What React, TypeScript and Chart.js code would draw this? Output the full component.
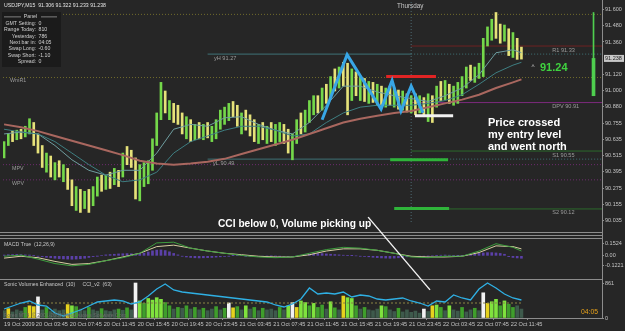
import React, { useEffect, useRef } from 'react';
import { Chart, registerables } from 'chart.js';

Chart.register(...registerables);

// ===================== DATA =====================
const titleText = 'USDJPY,M15  91.306 91.322 91.233 91.238';
const dayName = 'Thursday';

// x values are M15 bar offsets (0 = first bar of 20 Oct)
const tickTimes = [0, 15, 31, 47, 63, 79, 95, 111, 127, 143, 159, 175, 191, 207, 223, 239];
const tickLabels = ['19 Oct 2009', '20 Oct 03:45', '20 Oct 07:45', '20 Oct 11:45', '20 Oct 15:45', '20 Oct 19:45', '20 Oct 23:45', '21 Oct 03:45', '21 Oct 07:45', '21 Oct 11:45', '21 Oct 15:45', '21 Oct 19:45', '21 Oct 23:45', '22 Oct 03:45', '22 Oct 07:45', '22 Oct 11:45'];

const yesterdayStart = 96;
const todayStart = 192;
const barSpan = 2; // each drawn bar covers two M15 periods
const cciStep = 4;

const priceTicks = [91.6, 91.48, 91.36, 91.12, 91.0, 90.88, 90.755, 90.635, 90.515, 90.395, 90.275, 90.155, 90.035];
const macdTicks = [0.1524, 0, -0.1221];
const volumeTicks = [861, 0];

const firstOpen = 90.54;
const highs = [90.620, 90.677, 90.698, 90.705, 90.712, 90.734, 90.790, 90.762, 90.677, 90.591,
  90.535, 90.513, 90.464, 90.478, 90.449, 90.421, 90.336, 90.286, 90.265, 90.251,
  90.265, 90.286, 90.357, 90.371, 90.371, 90.393, 90.421, 90.407, 90.535, 90.584,
  90.556, 90.499, 90.449, 90.464, 90.478, 90.641, 90.833, 91.060, 90.996, 90.925,
  90.904, 90.890, 90.833, 90.805, 90.783, 90.748, 90.762, 90.748, 90.762, 90.734,
  90.783, 90.854, 90.876, 90.904, 90.918, 90.890, 90.833, 90.854, 90.819, 90.783,
  90.748, 90.762, 90.734, 90.762, 90.748, 90.762, 90.748, 90.712, 90.677, 90.783,
  90.833, 90.854, 90.925, 90.961, 90.961, 91.018, 91.046, 91.103, 91.160, 91.174,
  91.209, 91.202, 91.160, 91.138, 91.103, 91.089, 91.067, 91.060, 91.046, 91.032,
  91.018, 91.032, 91.018, 91.003, 90.996, 90.975, 90.961, 90.975, 90.961, 90.947,
  90.975, 90.961, 91.032, 91.067, 91.074, 91.046, 91.032, 91.060, 91.103, 91.174,
  91.188, 91.174, 91.202, 91.387, 91.472, 91.529, 91.579, 91.493, 91.486, 91.458,
  91.430, 91.387, 91.322];
const lows = [90.499, 90.591, 90.620, 90.634, 90.641, 90.655, 90.677, 90.591, 90.535, 90.428,
  90.393, 90.357, 90.336, 90.357, 90.322, 90.265, 90.144, 90.109, 90.094, 90.123,
  90.094, 90.144, 90.215, 90.251, 90.265, 90.272, 90.300, 90.286, 90.357, 90.449,
  90.428, 90.194, 90.180, 90.286, 90.307, 90.407, 90.591, 90.783, 90.833, 90.783,
  90.762, 90.748, 90.677, 90.641, 90.620, 90.634, 90.641, 90.634, 90.648, 90.620,
  90.641, 90.712, 90.748, 90.776, 90.805, 90.734, 90.677, 90.705, 90.662, 90.620,
  90.606, 90.634, 90.606, 90.620, 90.591, 90.620, 90.606, 90.535, 90.485, 90.606,
  90.677, 90.691, 90.762, 90.819, 90.833, 90.854, 90.904, 90.947, 90.996, 91.018,
  91.032, 90.819, 90.925, 90.961, 90.925, 90.918, 90.904, 90.911, 90.890, 90.876,
  90.876, 90.890, 90.876, 90.861, 90.854, 90.840, 90.833, 90.819, 90.833, 90.805,
  90.769, 90.762, 90.876, 90.925, 90.932, 90.904, 90.890, 90.904, 90.961, 91.018,
  91.074, 91.060, 91.089, 91.103, 91.330, 91.373, 91.387, 91.351, 91.366, 91.259,
  91.245, 91.231, 91.233];
const closes = [90.606, 90.670, 90.641, 90.684, 90.662, 90.719, 90.748, 90.620, 90.563, 90.464,
  90.499, 90.393, 90.428, 90.378, 90.407, 90.286, 90.194, 90.251, 90.144, 90.215,
  90.123, 90.265, 90.322, 90.279, 90.350, 90.307, 90.393, 90.364, 90.513, 90.478,
  90.464, 90.251, 90.407, 90.428, 90.449, 90.606, 90.805, 90.996, 90.876, 90.890,
  90.819, 90.783, 90.712, 90.748, 90.677, 90.712, 90.677, 90.726, 90.677, 90.705,
  90.762, 90.819, 90.833, 90.876, 90.833, 90.762, 90.790, 90.734, 90.691, 90.641,
  90.712, 90.662, 90.691, 90.641, 90.677, 90.719, 90.634, 90.570, 90.641, 90.748,
  90.705, 90.819, 90.890, 90.932, 90.876, 90.989, 90.961, 91.074, 91.046, 91.131,
  91.089, 90.961, 91.103, 90.996, 91.046, 90.961, 91.018, 90.947, 90.996, 90.904,
  90.975, 90.925, 90.961, 90.904, 90.947, 90.876, 90.918, 90.854, 90.904, 90.876,
  90.932, 90.890, 90.996, 90.961, 91.018, 90.925, 90.975, 91.018, 91.067, 91.138,
  91.103, 91.145, 91.160, 91.351, 91.444, 91.493, 91.458, 91.422, 91.458, 91.302,
  91.351, 91.316, 91.238];

const maTimes = [0, 8, 16, 24, 32, 40, 48, 56, 64, 72, 80, 88, 96, 104, 112, 120, 128, 136, 144, 152, 160, 168, 176, 184, 192, 200, 208, 216, 224, 232, 240, 244];
const slowMA = [90.748, 90.726, 90.698, 90.662, 90.627, 90.591, 90.556, 90.520, 90.478, 90.457, 90.449, 90.457, 90.471, 90.492, 90.528, 90.563, 90.599, 90.634, 90.677, 90.719, 90.762, 90.790, 90.812, 90.833, 90.847, 90.876, 90.904, 90.932, 90.968, 91.018, 91.060, 91.082];
const fastMA = [90.677, 90.691, 90.677, 90.591, 90.485, 90.407, 90.371, 90.407, 90.407, 90.535, 90.712, 90.748, 90.734, 90.797, 90.805, 90.748, 90.705, 90.677, 90.762, 90.890, 91.032, 91.032, 90.989, 90.961, 90.940, 90.918, 90.961, 91.018, 91.117, 91.280, 91.302, 91.280];
const midMA = [90.712, 90.691, 90.677, 90.620, 90.535, 90.449, 90.371, 90.322, 90.336, 90.393, 90.535, 90.620, 90.662, 90.705, 90.734, 90.734, 90.705, 90.662, 90.677, 90.762, 90.833, 90.876, 90.890, 90.890, 90.890, 90.904, 90.925, 90.968, 91.046, 91.131, 91.188, 91.209];

const macdLine = [-0.005, 0.009, -0.041, -0.096, -0.124, -0.106, -0.060, -0.023, 0.032, 0.161, 0.170, 0.096, 0.060, 0.032, 0.005, -0.014, -0.023, -0.014, 0.032, 0.078, 0.106, 0.096, 0.069, 0.032, -0.014, -0.023, -0.005, -0.005, 0.060, 0.151, 0.106, 0.060];
const signalLine = [-0.028, -0.005, -0.023, -0.069, -0.106, -0.096, -0.060, -0.014, 0.032, 0.115, 0.133, 0.096, 0.060, 0.032, 0.014, -0.005, -0.014, -0.014, 0.014, 0.060, 0.087, 0.087, 0.069, 0.032, -0.005, -0.014, -0.014, -0.005, 0.041, 0.124, 0.115, 0.087];
const macdHist = [0.010, 0.014, 0.016, 0.018, 0.015, 0.012, 0.010, 0.004,
  -0.004, -0.010,
  -0.018, -0.024, -0.030, -0.034, -0.038, -0.040, -0.042, -0.040, -0.036, -0.030, -0.020,
  -0.010, -0.002, 0.006,
  0.012, 0.016, 0.020, 0.024, 0.026, 0.028, 0.026, 0.022, 0.024,
  0.034, 0.048, 0.062, 0.072, 0.074, 0.066, 0.050,
  0.030, 0.012, -0.004,
  -0.014, -0.020, -0.024, -0.026, -0.024, -0.022, -0.020, -0.016, -0.012, -0.008, -0.004,
  0.002, 0.004, 0.002, -0.002, -0.004, -0.006, -0.006, -0.004, -0.002, 0.000, -0.002, -0.004, -0.006, -0.008, -0.006, -0.002,
  0.008, 0.016, 0.022, 0.026, 0.028, 0.028, 0.024, 0.020, 0.016, 0.012, 0.008,
  0.004, 0.002, 0.000, -0.004, -0.008, -0.012,
  -0.018, -0.022, -0.026, -0.028, -0.030, -0.028, -0.024, -0.018, -0.012,
  -0.008, -0.006, -0.004, -0.004, -0.002, 0.000, 0.004, 0.008,
  0.010, 0.008, 0.004, 0.002, 0.004, 0.010, 0.018, 0.024,
  0.030, 0.036, 0.040, 0.040, 0.036, 0.030, 0.020,
  -0.010, -0.020, -0.026, -0.030];

const volumes = [180, 230, 150, 200, 170, 260, 300, 280, 520, 200,
  260, 160, 220, 180, 200, 330, 300, 280, 220, 180,
  260, 200, 170, 230, 180, 160, 200, 220, 190, 250,
  200, 861, 420, 360, 480, 440, 500, 460, 380, 300,
  220, 260, 240, 300, 220, 260, 200, 240, 180, 220,
  280, 200, 240, 370, 250, 280, 200, 300, 220, 260,
  180, 240, 200, 220, 180, 260, 200, 300, 380, 260,
  420, 380, 300, 360, 260, 320, 220, 400, 250, 200,
  540, 500, 480, 300, 220, 260, 200, 180, 220, 300,
  280, 200, 160, 240, 150, 200, 140, 170, 120, 220,
  160, 300, 320, 260, 180, 300, 200, 170, 260, 150,
  200, 240, 180, 620, 360, 400, 460, 300, 420, 340,
  260, 300, 220];
// d = quiet, g = green, G = strong green, y = yellow (climax), w = white (spike)
const volumeKinds = ('dydddgyywd' + 'gddddyGgdd' + 'gddgdddgdg' + 'dwGgGGGGgg' + 'dgdgdgdgdd' + 'gdgwygdGdg' +
  'dgdddgdGwy' + 'GGgGggdGgd' + 'yGGgdgdddG' + 'gddgdddddw' + 'dyGgdGddgd' + 'dgdwyGGgGg' + 'gdd').split('');

const cciValues = [-60, -30, 0, 20, -20, -30, -100, -130, -100, -70,
  -30, 10, 20, 30, 20, -10, 10, 70, 140, 190,
  130, 110, 100, 90, 80, 70, 60, 50, 40, 30,
  20, 10, -20, -40, -10, 40, 150, 90, 100, 90,
  110, 60, 80, 70, 40, 30, 40, 50, 20, 0,
  -30, 20, 10, 80, 50, 30, 140, 200, 150, 90,
  50, 30];

// levels
const pivotNames = ['R1', 'DPV', 'S1', 'S2'];
const pivotValues = [91.33, 90.91, 90.55, 90.12];
const yHigh = 91.27;
const yLow = 90.49;
const monthlyPV = 90.449;
const weeklyPV = 90.336;
const weeklyMidR1 = 91.096;
const upperLevel = 91.565;
const lastPrice = 91.238;
const rangeBarTime = 278;
const todayHigh = 91.579;
const todayLow = 90.961;

const panelLabels = ['GMT Setting:', 'Range Today:', 'Yesterday:', 'Next bar in:', 'Swap Long:', 'Swap Short:', 'Spread:'];
const panelValues = ['0', '810', '786', '04:05', '-0.60', '-1.10', '0'];

// hand-drawn annotations
const zigzagTimes = [150.0, 161.8, 177.8, 183.0, 187.2, 192.0, 197.6];
const zigzagPrices = [90.783, 91.266, 90.861, 91.074, 90.847, 91.032, 90.833];
const redBar = { from: 180.2, to: 203.7, price: 91.103 };
const whiteBar = { from: 193.8, to: 211.8, price: 90.812 };
const greenBar1 = { from: 182.1, to: 209.4, price: 90.485 };
const greenBar2 = { from: 184.0, to: 209.9, price: 90.123 };
const arrowTimes = [171.7, 200.9];
const arrowPrices = [90.059, 89.519];
const noteLines = ['Price crossed', 'my entry level', 'and went north'];
const noteCCI = 'CCI below 0, Volume picking up';
const bigPrice = '91.24';
const countdown = '04:05';

// ===================== STYLE / LAYOUT =====================
const W = 625, H = 331;
const BG = '#262626';
const PANEL_BG = '#1b1b1b';
const FONT = '"Liberation Sans", Arial, sans-serif';
const AXIS_LINE = '#8c8c8c';
const AXIS_TEXT = '#c4c4c4';
const AXIS_W = 23;
const X_MIN = -0.5, X_MAX = 282;
const UP = '#74d84a';
const DOWN = '#e6e27a';

function txt(ctx: CanvasRenderingContext2D, s: string, x: number, y: number, size: number, color: string, align: CanvasTextAlign = 'left', weight = 'normal') {
  ctx.save();
  ctx.font = `${weight} ${size}px ${FONT}`;
  ctx.fillStyle = color;
  ctx.textAlign = align;
  ctx.textBaseline = 'middle';
  ctx.fillText(s, x, y);
  ctx.restore();
}

function xScale(show: boolean): any {
  return {
    type: 'linear', min: X_MIN, max: X_MAX, offset: false, display: show,
    afterBuildTicks: (s: any) => { s.ticks = tickTimes.map((v) => ({ value: v })); },
    afterFit: (s: any) => { s.height = 10; s.paddingLeft = 0; s.paddingRight = 0; },
    ticks: {
      autoSkip: false, maxRotation: 0, minRotation: 0, align: 'start', padding: 1,
      color: AXIS_TEXT, font: { family: FONT, size: 5.6 },
      callback: (_v: any, i: number) => tickLabels[i] ?? '',
    },
    grid: { display: true, drawOnChartArea: false, drawTicks: true, tickLength: 2, color: AXIS_LINE },
    border: { display: true, color: AXIS_LINE },
  };
}

function yScale(min: number, max: number, ticks: number[], fmt: (v: number) => string): any {
  return {
    type: 'linear', position: 'right', min, max,
    afterBuildTicks: (s: any) => { s.ticks = ticks.map((v) => ({ value: v })); },
    afterFit: (s: any) => { s.width = AXIS_W; s.paddingTop = 0; s.paddingBottom = 0; },
    ticks: { autoSkip: false, padding: 1, color: AXIS_TEXT, font: { family: FONT, size: 5.5 }, callback: (v: any) => fmt(Number(v)) },
    grid: { drawOnChartArea: false, drawTicks: true, tickLength: 2, color: AXIS_LINE },
    border: { display: true, color: AXIS_LINE },
  };
}

function hline(from: number, to: number, value: number, color: string, width = 1, dash: number[] = [], order = 20, yAxisID = 'y'): any {
  return {
    type: 'line', yAxisID, data: [{ x: from, y: value }, { x: to, y: value }],
    borderColor: color, borderWidth: width, borderDash: dash, pointRadius: 0, order, fill: false,
  };
}

const baseOptions = (padding: any) => ({
  animation: false as const, responsive: false, maintainAspectRatio: false, devicePixelRatio: 1,
  events: [] as any[],
  layout: { padding },
  plugins: { legend: { display: false }, tooltip: { enabled: false } },
  elements: { point: { radius: 0 } },
});

function buildMain(canvas: HTMLCanvasElement) {
  const opens = closes.map((c, i) => (i === 0 ? firstOpen : closes[i - 1]));
  const barColors = closes.map((c, i) => (c >= opens[i] ? UP : DOWN));
  const PRICE_MIN = 90.023, PRICE_MAX = 91.657;
  const teal = '#3f7377';
  const datasets: any[] = [
    hline(X_MIN, X_MAX, upperLevel, '#716c2c', 1, [1, 2]),
    hline(X_MIN, X_MAX, weeklyMidR1, '#716c2c', 1, [1, 2]),
    hline(X_MIN, X_MAX, monthlyPV, '#6e2c6e', 1, [1, 2]),
    hline(X_MIN, X_MAX, weeklyPV, '#6e2c6e', 1, [1, 2]),
    hline(yesterdayStart, todayStart, yHigh, teal, 1),
    hline(yesterdayStart, todayStart, yLow, teal, 1),
    hline(todayStart, X_MAX, yHigh, teal, 1, [1, 2]),
    hline(todayStart, X_MAX, yLow, teal, 1, [1, 2]),
    hline(todayStart, X_MAX, pivotValues[0], '#6e2222', 1),
    hline(todayStart, X_MAX, pivotValues[1], '#7c2a7c', 1),
    hline(todayStart, X_MAX, pivotValues[2], '#2c6a2c', 1),
    hline(todayStart, X_MAX, pivotValues[3], '#2c6a2c', 1),
    { type: 'line', data: [{ x: todayStart, y: PRICE_MAX }, { x: todayStart, y: PRICE_MIN }], borderColor: '#4d6a72', borderWidth: 1, borderDash: [1, 2], pointRadius: 0, order: 20 },
    {
      type: 'bar', data: highs.map((h, i) => ({ x: i * barSpan, y: [lows[i], h] })),
      backgroundColor: barColors, borderWidth: 0, barThickness: 2, grouped: false, order: 10,
    },
    { type: 'bar', data: [{ x: rangeBarTime, y: [todayLow, todayHigh] }], backgroundColor: '#4fcf4f', borderWidth: 0, barThickness: 1, grouped: false, order: 10 },
    { type: 'bar', data: [{ x: rangeBarTime, y: [todayLow, lastPrice] }], backgroundColor: '#4fcf4f', borderWidth: 0, barThickness: 3, grouped: false, order: 10 },
    { type: 'line', data: maTimes.map((t, k) => ({ x: t, y: midMA[k] })), borderColor: '#3f7f82', borderWidth: 1, pointRadius: 0, order: 6 },
    { type: 'line', data: maTimes.map((t, k) => ({ x: t, y: fastMA[k] })), borderColor: '#6f9ea0', borderWidth: 1, pointRadius: 0, order: 6 },
    { type: 'line', data: maTimes.map((t, k) => ({ x: t, y: slowMA[k] })), borderColor: '#a9675f', borderWidth: 2, pointRadius: 0, order: 5 },
    { type: 'line', data: zigzagTimes.map((t, k) => ({ x: t, y: zigzagPrices[k] })), borderColor: '#38a6e6', borderWidth: 3, pointRadius: 0, order: 1, borderJoinStyle: 'miter' },
    hline(redBar.from, redBar.to, redBar.price, '#e02424', 3, [], 1),
    hline(whiteBar.from, whiteBar.to, whiteBar.price, '#f2f2f2', 3, [], 1),
    hline(greenBar1.from, greenBar1.to, greenBar1.price, '#2fb43a', 3, [], 1),
    hline(greenBar2.from, greenBar2.to, greenBar2.price, '#2fb43a', 3, [], 1),
    { type: 'line', data: arrowTimes.map((t, k) => ({ x: t, y: arrowPrices[k] })), borderColor: '#f4f4f4', borderWidth: 1.4, pointRadius: 0, order: 0, clip: false },
  ];

  const decor = {
    id: 'mainDecor',
    afterDraw(chart: any) {
      const ctx: CanvasRenderingContext2D = chart.ctx;
      const xs = chart.scales.x, ys = chart.scales.y;
      const px = (t: number) => xs.getPixelForValue(t);
      const py = (v: number) => ys.getPixelForValue(v);
      txt(ctx, titleText, 4, 6, 5.2, '#e4e4e4');
      txt(ctx, dayName, px(todayStart) - 1, 6, 6.3, '#c8c8c8', 'center');
      // panel
      ctx.fillStyle = PANEL_BG;
      ctx.fillRect(2, 12, 59, 55);
      ctx.fillStyle = '#9a9a9a';
      ctx.fillRect(4, 16.5, 17, 0.8);
      ctx.fillRect(41, 16.5, 16, 0.8);
      txt(ctx, 'Panel', 30.5, 17, 5.2, '#d0d0d0', 'center');
      panelLabels.forEach((l, k) => {
        const yy = 23.7 + k * 6.33;
        txt(ctx, l, 36, yy, 5.2, '#d0d0d0', 'right');
        txt(ctx, panelValues[k], 38.5, yy, 5.2, '#d0d0d0', 'left');
      });
      // level labels
      const lc = '#9c9c9c';
      pivotNames.forEach((n, k) => txt(ctx, `${n} ${pivotValues[k].toFixed(2)}`, px(258.5), py(pivotValues[k]) + 4, 5.6, lc));
      txt(ctx, `yH ${yHigh.toFixed(2)}`, px(99), py(yHigh) + 4, 5.6, lc);
      txt(ctx, `yL ${yLow.toFixed(2)}`, px(98.5), py(yLow) + 4, 5.6, lc);
      txt(ctx, 'WmR1', 10, py(weeklyMidR1) + 3.5, 5.3, lc);
      txt(ctx, 'MPV', 12, py(monthlyPV) + 4, 5.3, lc);
      txt(ctx, 'WPV', 12, py(weeklyPV) + 3.5, 5.3, lc);
      // current price box
      const cy = py(lastPrice);
      ctx.fillStyle = '#c8c8c8';
      ctx.fillRect(chart.chartArea.right + 2, cy - 3.5, 20, 7);
      txt(ctx, lastPrice.toFixed(3), chart.chartArea.right + 3, cy, 5.5, '#1e1e1e');
      // annotations
      txt(ctx, '^', 533, 67, 6.5, '#c8c8c8', 'center');
      txt(ctx, bigPrice, 540, 68, 11, '#3fd23f', 'left', 'bold');
      noteLines.forEach((l, k) => txt(ctx, l, 488, 123 + k * 12, 11, '#ffffff', 'left', 'bold'));
      txt(ctx, noteCCI, 218, 224, 10.2, '#ffffff', 'left', 'bold');
    },
  };

  return new Chart(canvas, {
    type: 'bar',
    data: { datasets },
    options: {
      ...baseOptions({ left: 3, right: 0, top: 2, bottom: 99 }),
      scales: {
        x: xScale(false),
        y: yScale(PRICE_MIN, PRICE_MAX, priceTicks, (v) => v.toFixed(3)),
      },
    } as any,
    plugins: [decor],
  });
}

function buildMacd(canvas: HTMLCanvasElement) {
  const datasets: any[] = [
    { type: 'bar', data: macdHist.map((v, i) => ({ x: i * barSpan, y: v })), backgroundColor: '#5b40a8', borderWidth: 0, barThickness: 2, grouped: false, order: 5 },
    { type: 'line', data: maTimes.map((t, k) => ({ x: t, y: signalLine[k] })), borderColor: '#d8d0a2', borderWidth: 1, pointRadius: 0, order: 2 },
    { type: 'line', data: maTimes.map((t, k) => ({ x: t, y: macdLine[k] })), borderColor: '#3e9e3e', borderWidth: 1, pointRadius: 0, order: 1 },
  ];
  const decor = {
    id: 'macdDecor',
    afterDraw(chart: any) {
      txt(chart.ctx, 'MACD True  (12,26,9)', 4, 244.5, 5.2, '#c8c8c8');
    },
  };
  return new Chart(canvas, {
    type: 'bar',
    data: { datasets },
    options: {
      ...baseOptions({ left: 3, right: 0, top: 240, bottom: 53 }),
      scales: {
        x: xScale(false),
        y: yScale(-0.151, 0.197, macdTicks, (v) => (v === 0 ? '0.00' : v.toFixed(4))),
      },
    } as any,
    plugins: [decor],
  });
}

function buildVolume(canvas: HTMLCanvasElement) {
  const kindColor: Record<string, string> = { d: '#3e5a4c', g: '#3f9e2c', G: '#7fe23e', y: '#e6d21e', w: '#f2f2f2' };
  const datasets: any[] = [
    hline(X_MIN, (highs.length - 1) * barSpan + 0.5, 0, '#8c8544', 1, [2, 2], 3, 'cci'),
    { type: 'bar', data: volumes.map((v, i) => ({ x: i * barSpan, y: v })), backgroundColor: volumeKinds.map((k) => kindColor[k]), borderWidth: 0, barThickness: 3, grouped: false, order: 5 },
    { type: 'line', yAxisID: 'cci', data: cciValues.map((v, k) => ({ x: k * cciStep, y: v })), borderColor: '#2fb0e4', borderWidth: 1.3, pointRadius: 0, order: 1 },
  ];
  const decor = {
    id: 'volDecor',
    afterDraw(chart: any) {
      const ctx: CanvasRenderingContext2D = chart.ctx;
      const right = chart.chartArea.right;
      ctx.fillStyle = '#8c8c8c';
      [232, 235, 238, 279].forEach((yy) => ctx.fillRect(0, yy, right, 1));
      ctx.fillRect(right, 0, 1, 319);
      txt(ctx, 'Sonic Volumes Enhanced  (10)     CCI_v2  (63)', 4, 284.5, 5.2, '#c8c8c8');
      txt(ctx, 'Forex MT4  © 2001-2009 MetaQuotes Software Corp.', 4, 316, 5.2, '#6a6a6a');
      txt(ctx, countdown, 581, 312, 6.8, '#e8a21a');
    },
  };
  return new Chart(canvas, {
    type: 'bar',
    data: { datasets },
    options: {
      ...baseOptions({ left: 3, right: 0, top: 280, bottom: 3 }),
      scales: {
        x: xScale(true),
        y: yScale(0, 935, volumeTicks, (v) => String(v)),
        cci: { type: 'linear', display: false, min: -150, max: 230 },
      },
    } as any,
    plugins: [decor],
  });
}

export default function App() {
  const mainRef = useRef<HTMLCanvasElement>(null);
  const macdRef = useRef<HTMLCanvasElement>(null);
  const volRef = useRef<HTMLCanvasElement>(null);
  useEffect(() => {
    document.body.style.margin = '0';
    document.body.style.background = BG;
    const charts = [buildVolume(volRef.current!), buildMacd(macdRef.current!), buildMain(mainRef.current!)];
    return () => charts.forEach((c) => c.destroy());
  }, []);
  const cs: React.CSSProperties = { position: 'absolute', left: 0, top: 0, width: W, height: H };
  return (
    <div style={{ position: 'relative', width: W, height: H, background: BG, overflow: 'hidden' }}>
      <canvas ref={volRef} width={W} height={H} style={cs} />
      <canvas ref={macdRef} width={W} height={H} style={cs} />
      <canvas ref={mainRef} width={W} height={H} style={cs} />
    </div>
  );
}
